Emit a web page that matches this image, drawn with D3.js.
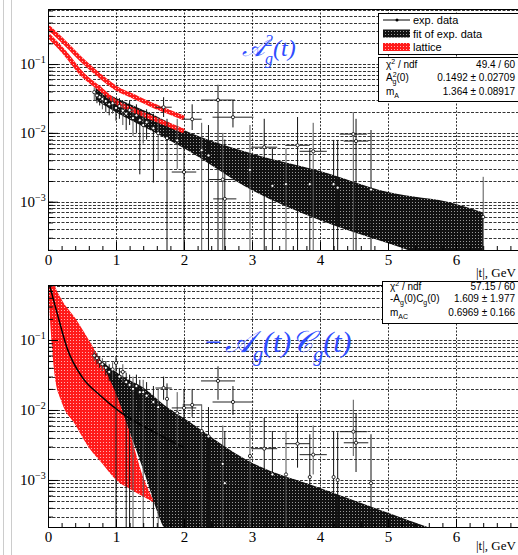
<!DOCTYPE html>
<html>
<head>
<meta charset="utf-8">
<script src="https://cdn.jsdelivr.net/npm/d3@7"></script>
<style>
  body { margin: 0; background: #fff; }
  svg { display: block; }
</style>
</head>
<body>
<svg id="chart" width="518" height="555"></svg>
<script>
// exp. data points (same |t| bins in both panels)
var expT    = [0.68,0.72,0.76,0.80,0.85,0.90,0.95,1.00,1.05,1.10,1.15,1.20,1.25,1.30,1.35,1.40,1.45,1.55,1.62,1.70,1.75,1.90,2.00,2.12,2.26,2.36,2.50,2.57,2.60,2.72,2.97,3.18,3.30,3.50,3.67,3.85,3.90,4.20,4.26,4.49,4.53,4.75,6.40];
var expTerr = [0,0,0,0,0,0,0,0.03,0,0.05,0,0.04,0,0.05,0.04,0,0.05,0,0,0.12,0,0,0.18,0.14,0,0,0.25,0.2,0.17,0.3,0,0.19,0,0,0.18,0,0.2,0,0,0.2,0.18,0,0];

// top panel: A_g^2(t)
var topVal = [0.039,0.035,0.033,0.031,0.029,0.026,0.027,0.023,0.0245,0.021,0.019,0.0214,0.0164,0.018,0.0153,0.013,0.0143,0.0117,0.0099,0.0236,0.0084,0.0078,0.0027,0.0158,0.0056,0.0047,0.030,0.0021,0.0011,0.0169,0.0029,0.0062,0.0017,0.0018,0.0066,0.0018,0.0054,0.0018,0.0016,0.0096,0.0076,0.0015,0.0006];
var topHi  = [0.046,0.042,0.040,0.038,0.036,0.033,0.034,0.030,0.032,0.028,0.026,0.029,0.023,0.026,0.022,0.020,0.022,0.019,0.017,0.033,0.016,0.016,0.009,0.026,0.014,0.013,0.050,0.010,0.008,0.030,0.013,0.016,0.006,0.006,0.017,0.006,0.014,0.0079,0.0079,0.020,0.016,0.011,0.0023];
var topLo  = [0.030,0.027,0.025,0.022,0.020,0.018,0.019,0.015,0.016,0.013,0.011,0.013,0.009,0.010,0.0025,0.007,0.008,0.0019,0.004,0.017,1e-4,0.003,1e-4,0.011,1e-4,1e-4,1e-4,1e-4,1e-4,0.012,1e-4,1e-4,1e-4,1e-4,1e-4,1e-4,1e-4,1e-4,1e-4,1e-4,1e-4,1e-4,1e-4];

// bottom panel: -A_g(t)C_g(t)
var botVal = [0.060,0.055,0.0485,0.045,0.040,0.035,0.038,0.047,0.030,0.035,0.025,0.0228,0.020,0.022,0.018,0.018,0.016,0.013,0.011,0.0206,0.0144,0.009,0.0107,0.0118,0.005,0.0042,0.026,0.0017,0.0009,0.013,0.0022,0.0028,0.0012,0.0012,0.0033,0.0011,0.0023,0.0011,0.001,0.0049,0.0034,0.0009,null];
var botHi  = [0.070,0.065,0.058,0.055,0.050,0.045,0.048,0.058,0.040,0.045,0.034,0.032,0.030,0.032,0.027,0.027,0.025,0.022,0.020,0.030,0.024,0.018,0.020,0.020,0.012,0.011,0.042,0.006,0.005,0.022,0.007,0.0077,0.005,0.005,0.0088,0.0045,0.006,0.005,0.0048,0.014,0.009,0.0045,null];
var botLo  = [0.050,0.045,0.040,0.036,0.031,0.026,0.028,1e-4,0.021,0.025,1e-4,1e-4,1e-4,0.014,0.010,1e-4,0.009,1e-4,1e-4,0.014,1e-4,0.003,1e-4,0.008,1e-4,1e-4,0.014,1e-4,1e-4,0.0085,1e-4,1e-4,1e-4,1e-4,0.0015,1e-4,0.0012,1e-4,1e-4,0.0022,0.0013,1e-4,null];

// fit bands
var fitTopT  = [0.7,1.0,1.5,2.0,3.0,4.0,5.0,6.0,6.4];
var fitTopHi = [0.045,0.032,0.0194,0.011,0.0050,0.0028,0.00138,0.00093,0.0007];
var fitTopLo = [0.030,0.020,0.011,0.006,0.00147,0.00054,0.00025,0.00012,0.0001];

var fitBotT  = [0.76,1.0,1.16,1.4,1.7,2.04,3.0,4.0,5.0,5.6];
var fitBotHi = [0.052,0.035,0.028,0.021,0.012,0.0072,0.00176,0.00077,0.00034,0.00021];
var fitBotLo = [0.050,0.0143,0.0061,0.0014,0.00021,0.0001,0.0001,0.0001,0.0001,0.0001];

var curveBotT = [0.02,0.13,0.28,0.51,0.76,1.06,1.5,2.0];
var curveBotV = [0.62,0.25,0.077,0.0287,0.0164,0.0094,0.0052,0.0029];

// lattice bands
var latTopT  = [0,0.25,0.5,0.75,1.0,1.25,1.5,1.75,2.0];
var latTopHi = [0.345,0.202,0.114,0.069,0.0448,0.0342,0.0262,0.0207,0.0164];
var latTopLo = [0.264,0.145,0.0716,0.0447,0.028,0.0214,0.0169,0.0134,0.0106];

var latBotT  = [0,0.05,0.1,0.2,0.4,0.6,0.8,1.0,1.2,1.4,1.57];
var latBotHi = [1.0,0.9,0.6,0.38,0.206,0.1,0.045,0.017,0.0048,0.0011,0.00047];
var latBotLo = [0.6,0.1,0.03,0.013,0.0062,0.0029,0.0017,0.001,0.00075,0.00058,0.00047];

var xTicks = [0,1,2,3,4,5,6];
var decades = [-3,-2,-1];

var legendLabels = ["exp. data", "fit of exp. data", "lattice"];
var statsTop = [["χ2 / ndf", "49.4 / 60"], ["A2g(0)", "0.1492 ± 0.02709"], ["mA", "1.364 ± 0.08917"]];
var statsBot = [["χ2 / ndf", "57.15 / 60"], ["-Ag(0)Cg(0)", "1.609 ± 1.977"], ["mAC", "0.6969 ± 0.166"]];

var svg = d3.select("#chart");
var serif = "'Liberation Serif', 'DejaVu Serif', serif";
var sans = "'Liberation Sans', Arial, sans-serif";

var defs = svg.append("defs");
var pb = defs.append("pattern").attr("id", "blk").attr("width", 3).attr("height", 3)
  .attr("patternUnits", "userSpaceOnUse");
pb.append("rect").attr("width", 3).attr("height", 3).attr("fill", "#111");
pb.append("rect").attr("x", 1).attr("y", 1).attr("width", 1).attr("height", 1).attr("fill", "#9a9a9a");
var pr = defs.append("pattern").attr("id", "red").attr("width", 3).attr("height", 3)
  .attr("patternUnits", "userSpaceOnUse");
pr.append("rect").attr("width", 3).attr("height", 3).attr("fill", "#ff1a1a");
pr.append("rect").attr("x", 1).attr("y", 1).attr("width", 1).attr("height", 1).attr("fill", "#ffb0b0");

// page edge lines
svg.append("line").attr("x1", 3.5).attr("x2", 3.5).attr("y1", 0).attr("y2", 555).attr("stroke", "#ccc");
svg.append("line").attr("x1", 11.5).attr("x2", 11.5).attr("y1", 0).attr("y2", 555).attr("stroke", "#ccc");

function panel(cfg) {
  var x = d3.scaleLinear().domain([0, 7]).range([48, 524]);
  var y = d3.scaleLog().domain(cfg.ydom).range([cfg.bottom, cfg.top]);
  var g = svg.append("g");

  defs.append("clipPath").attr("id", cfg.id)
    .append("rect").attr("x", 48).attr("y", cfg.top).attr("width", 476).attr("height", cfg.bottom - cfg.top);

  // grid
  var gridVals = [];
  [-4, -3, -2, -1, 0].forEach(function(e) {
    for (var k = 1; k < 10; k++) {
      var v = k * Math.pow(10, e);
      if (v > cfg.ydom[0] && v < cfg.ydom[1]) gridVals.push(v);
    }
  });
  g.selectAll(".hg").data(gridVals).join("line")
    .attr("x1", 48).attr("x2", 524)
    .attr("y1", function(d) { return Math.round(y(d)) + 0.5; })
    .attr("y2", function(d) { return Math.round(y(d)) + 0.5; })
    .attr("stroke", "#000").attr("stroke-width", 0.8).attr("stroke-dasharray", "3,1.5");
  g.selectAll(".vg").data(xTicks.slice(1)).join("line")
    .attr("x1", function(d) { return Math.round(x(d)) + 0.5; })
    .attr("x2", function(d) { return Math.round(x(d)) + 0.5; })
    .attr("y1", cfg.top).attr("y2", cfg.bottom)
    .attr("stroke", "#000").attr("stroke-width", 0.8).attr("stroke-dasharray", "2,1.5");

  var plot = g.append("g").attr("clip-path", "url(#" + cfg.id + ")");
  var area = d3.area().x(function(d) { return x(d[0]); })
    .y0(function(d) { return y(d[2]); }).y1(function(d) { return y(d[1]); })
    .curve(d3.curveMonotoneX);
  var line = d3.line().x(function(d) { return x(d[0]); }).y(function(d) { return y(d[1]); })
    .curve(d3.curveMonotoneX);

  // fit band
  plot.append("path").datum(d3.zip(cfg.fitT, cfg.fitHi, cfg.fitLo))
    .attr("d", area).attr("fill", "url(#blk)");

  // lattice
  if (cfg.latStripes) {
    plot.append("path").datum(d3.zip(cfg.latT, cfg.latHi))
      .attr("d", line).attr("fill", "none").attr("stroke", "url(#red)").attr("stroke-width", 4.5);
    plot.append("path").datum(d3.zip(cfg.latT, cfg.latLo))
      .attr("d", line).attr("fill", "none").attr("stroke", "url(#red)").attr("stroke-width", 4.5);
  } else {
    plot.append("path").datum(d3.zip(cfg.latT, cfg.latHi, cfg.latLo))
      .attr("d", area).attr("fill", "url(#red)");
  }

  if (cfg.curveT) {
    plot.append("path").datum(d3.zip(cfg.curveT, cfg.curveV))
      .attr("d", line).attr("fill", "none").attr("stroke", "#000").attr("stroke-width", 1.5);
  }

  // exp. data
  var pts = expT.map(function(t, i) {
    return {t: t, e: expTerr[i], v: cfg.val[i], hi: cfg.hi[i], lo: cfg.lo[i], i: i};
  }).filter(function(d) { return d.v != null; });
  var pg = plot.selectAll(".pt").data(pts).join("g");
  pg.append("line")
    .attr("x1", function(d) { return x(d.t); }).attr("x2", function(d) { return x(d.t); })
    .attr("y1", function(d) { return y(d.hi); }).attr("y2", function(d) { return y(d.lo); })
    .attr("stroke", function(d) { return d.i % 3 == 0 ? "#555" : "#111"; }).attr("stroke-width", 1);
  pg.filter(function(d) { return d.e > 0; }).append("line")
    .attr("x1", function(d) { return x(d.t - d.e); }).attr("x2", function(d) { return x(d.t + d.e); })
    .attr("y1", function(d) { return y(d.v); }).attr("y2", function(d) { return y(d.v); })
    .attr("stroke", "#222").attr("stroke-width", 1);
  pg.append("circle")
    .attr("cx", function(d) { return x(d.t); }).attr("cy", function(d) { return y(d.v); })
    .attr("r", 1.6).attr("fill", "#fff").attr("stroke", "#000").attr("stroke-width", 0.8);

  // frame
  g.append("rect").attr("x", 48.5).attr("y", cfg.top + 0.5).attr("width", 480).attr("height", cfg.bottom - cfg.top)
    .attr("fill", "none").attr("stroke", "#000").attr("stroke-width", 1);

  // x axis
  var minor = d3.range(0, 7.01, 0.2);
  g.append("g").attr("transform", "translate(0," + cfg.bottom + ")")
    .call(d3.axisBottom(x).tickValues(minor).tickSize(-4).tickFormat(""))
    .call(function(a) { a.select(".domain").remove(); });
  var xa = g.append("g").attr("transform", "translate(0," + cfg.bottom + ")")
    .call(d3.axisBottom(x).tickValues(xTicks).tickSize(-8).tickPadding(4).tickFormat(d3.format("d")));
  xa.select(".domain").remove();
  xa.selectAll("text").style("font-family", serif).style("font-size", "15px").attr("fill", "#000");

  // y axis ticks
  g.append("g").attr("transform", "translate(48,0)")
    .call(d3.axisLeft(y).tickValues(gridVals).tickSize(-5).tickFormat(""))
    .call(function(a) { a.select(".domain").remove(); });
  g.append("g").attr("transform", "translate(48,0)")
    .call(d3.axisLeft(y).tickValues(decades.map(function(e) { return Math.pow(10, e); })).tickSize(-10).tickFormat(""))
    .call(function(a) { a.select(".domain").remove(); });
  var yl = g.selectAll(".ylab").data(decades).join("text")
    .attr("x", 20).attr("y", function(d) { return y(Math.pow(10, d)) + 5; })
    .style("font-family", serif).style("font-size", "15px");
  yl.append("tspan").text("10");
  yl.append("tspan").attr("dy", -6).style("font-size", "10px").text(function(d) { return "\u2212" + (-d); });

  g.append("text").attr("x", 476).attr("y", cfg.bottom + cfg.labelDy)
    .style("font-family", serif).style("font-size", "13px").text("|t|, GeV");

  return {x: x, y: y, g: g};
}

function stats(rows, x0, y0, h, rowY) {
  var b = svg.append("g");
  b.append("rect").attr("x", x0 + 0.5).attr("y", y0 + 0.5).attr("width", 150).attr("height", h)
    .attr("fill", "#fff").attr("stroke", "#000");
  rows.forEach(function(r, i) {
    var ty = y0 + rowY[i];
    var t = b.append("text").attr("x", x0 + 8).attr("y", ty)
      .style("font-family", sans).style("font-size", "10px");
    var lab = r[0];
    if (lab.indexOf("χ2") == 0) {
      t.append("tspan").text("χ");
      t.append("tspan").attr("dy", -4).style("font-size", "7px").text("2");
      t.append("tspan").attr("dy", 4).text(" / ndf");
    } else if (lab == "A2g(0)") {
      t.append("tspan").text("A");
      t.append("tspan").attr("dy", -4).style("font-size", "7px").text("2");
      t.append("tspan").attr("dx", -4).attr("dy", 7).style("font-size", "7px").text("g");
      t.append("tspan").attr("dy", -3).text("(0)");
    } else if (lab == "-Ag(0)Cg(0)") {
      t.append("tspan").text("-A");
      t.append("tspan").attr("dy", 3).style("font-size", "7px").text("g");
      t.append("tspan").attr("dy", -3).text("(0)C");
      t.append("tspan").attr("dy", 3).style("font-size", "7px").text("g");
      t.append("tspan").attr("dy", -3).text("(0)");
    } else {
      t.append("tspan").text("m");
      t.append("tspan").attr("dy", 3).style("font-size", "7px").text(lab.slice(1));
    }
    b.append("text").attr("x", 515).attr("y", ty).attr("text-anchor", "end")
      .style("font-family", sans).style("font-size", "10px").text(r[1]);
  });
}

var top = panel({
  id: "clipTop", top: 9, bottom: 250, ydom: [1.99e-4, 0.63], labelDy: 27,
  fitT: fitTopT, fitHi: fitTopHi, fitLo: fitTopLo,
  latT: latTopT, latHi: latTopHi, latLo: latTopLo, latStripes: true,
  val: topVal, hi: topHi, lo: topLo
});
var bot = panel({
  id: "clipBot", top: 285, bottom: 527, ydom: [2.13e-4, 0.61], labelDy: 23,
  fitT: fitBotT, fitHi: fitBotHi, fitLo: fitBotLo,
  latT: latBotT, latHi: latBotHi, latLo: latBotLo, latStripes: false,
  curveT: curveBotT, curveV: curveBotV,
  val: botVal, hi: botHi, lo: botLo
});

// legend
var lg = svg.append("g");
lg.append("rect").attr("x", 378.5).attr("y", 13.5).attr("width", 150).attr("height", 41)
  .attr("fill", "#fff").attr("stroke", "#000");
legendLabels.forEach(function(l, i) {
  var cy = 20 + i * 13.5;
  if (i == 0) {
    lg.append("line").attr("x1", 383).attr("x2", 410).attr("y1", cy).attr("y2", cy).attr("stroke", "#000");
    lg.append("circle").attr("cx", 397).attr("cy", cy).attr("r", 1.5).attr("fill", "#000");
  } else {
    lg.append("rect").attr("x", 383).attr("y", cy - 4).attr("width", 27).attr("height", 8)
      .attr("fill", i == 1 ? "url(#blk)" : "url(#red)");
  }
  lg.append("text").attr("x", 413).attr("y", cy + 4)
    .style("font-family", sans).style("font-size", "11px").text(l);
});

stats(statsTop, 378, 57, 44, [11, 24, 38]);
stats(statsBot, 382, 281, 42, [9, 21, 35]);

// formulas
var blue = "#2f4dff";
var f1 = svg.append("text").attr("x", 242).attr("y", 56)
  .style("font-family", serif).style("font-style", "italic").style("font-size", "24px").attr("fill", blue);
f1.append("tspan").text("\ud835\udc9c");
f1.append("tspan").attr("dy", -10).style("font-size", "16px").text("2");
f1.append("tspan").attr("dx", -8).attr("dy", 18).style("font-size", "16px").text("g");
f1.append("tspan").attr("dy", -8).text("(t)");

var f2 = svg.append("text").attr("x", 205).attr("y", 352)
  .style("font-family", serif).style("font-style", "italic").style("font-size", "30px").attr("fill", blue);
f2.append("tspan").style("font-style", "normal").text("\u2212");
f2.append("tspan").attr("dx", 3).text("\ud835\udc9c");
f2.append("tspan").attr("dy", 9).style("font-size", "20px").text("g");
f2.append("tspan").attr("dy", -9).text("(t)\ud835\udc9e");
f2.append("tspan").attr("dy", 9).style("font-size", "20px").text("g");
f2.append("tspan").attr("dy", -9).text("(t)");
</script>
</body>
</html>
